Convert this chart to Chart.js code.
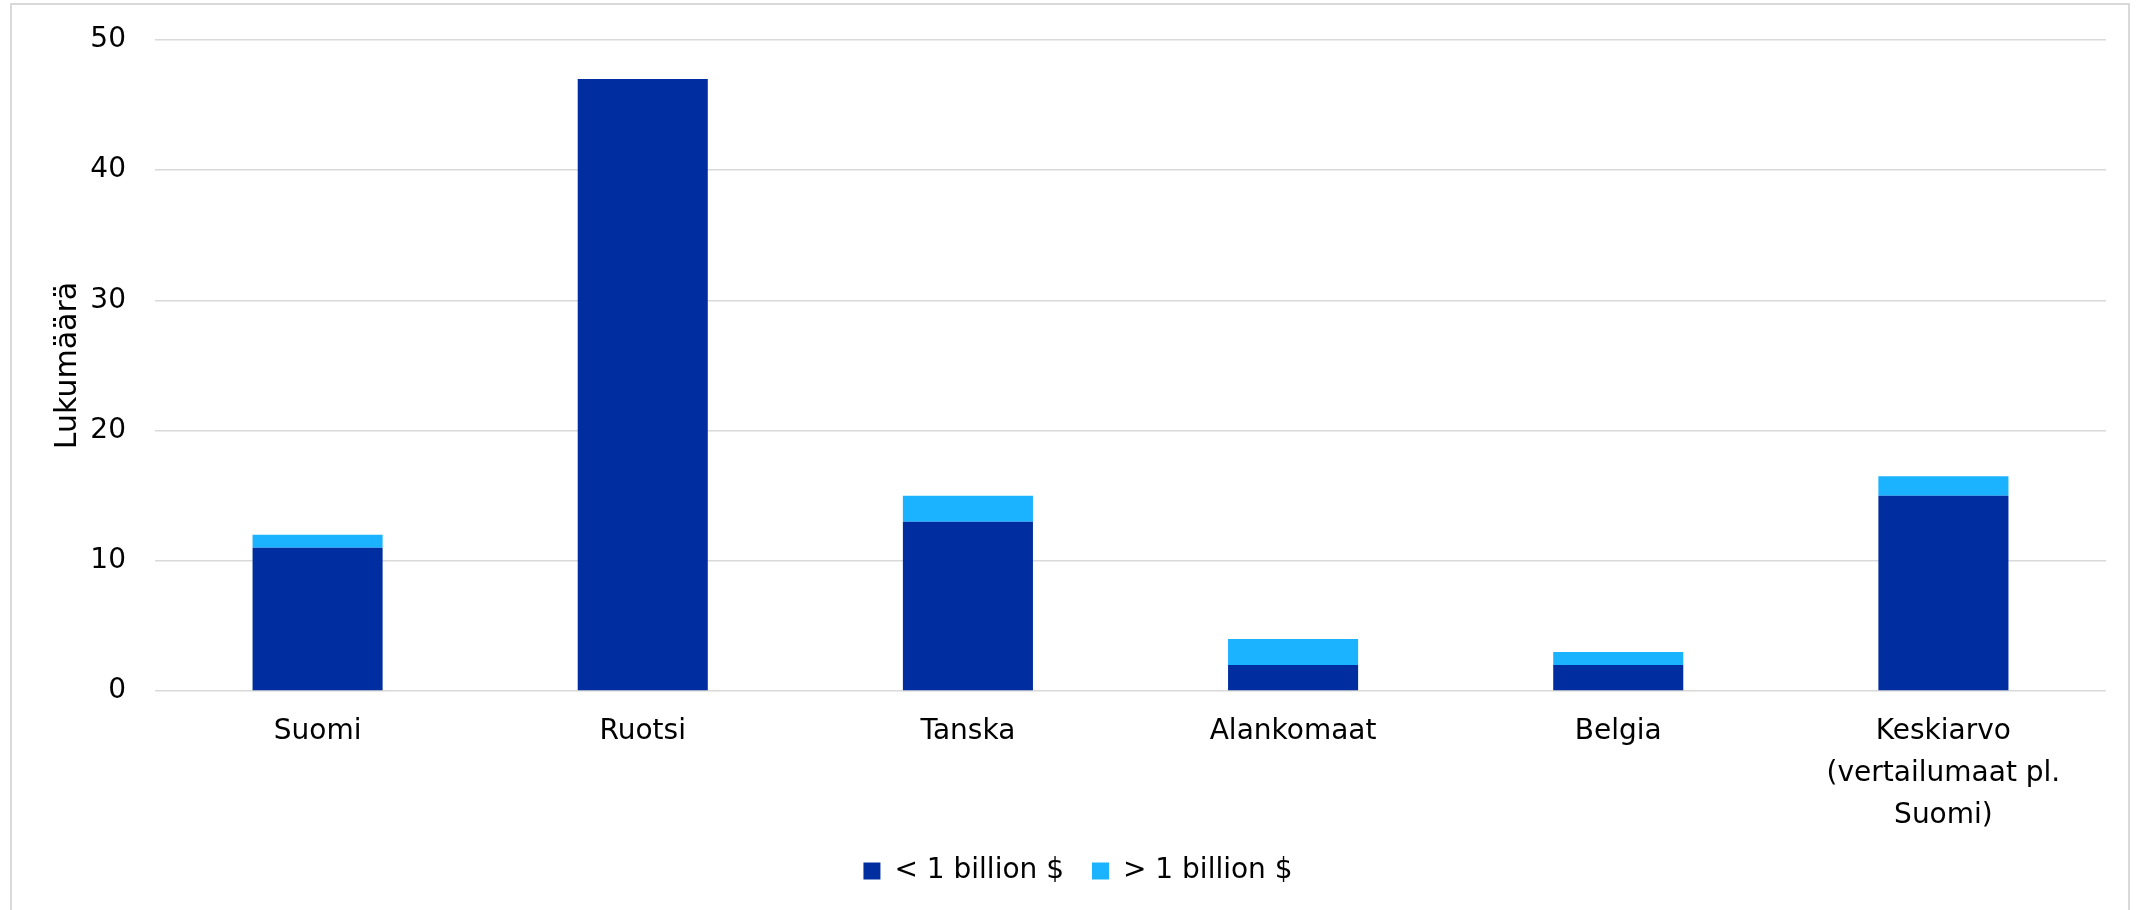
<!DOCTYPE html>
<html>
<head>
<meta charset="utf-8">
<script src="https://cdn.jsdelivr.net/npm/chart.js@4/dist/chart.umd.min.js"></script>
<style>
  html, body { margin: 0; padding: 0; background: #fff; overflow: hidden; }
  .frame {
    position: absolute; left: 10px; top: 3px; width: 2120px; height: 1000px;
    border: 2px solid #d9d9d9; box-sizing: border-box;
  }
  .wrap { position: absolute; left: 0; top: 0; width: 2149px; height: 910px; }
</style>
</head>
<body>
<div class="frame"></div>
<div class="wrap"><canvas id="chart"></canvas></div>
<script>
const categories = ['Suomi', 'Ruotsi', 'Tanska', 'Alankomaat', 'Belgia',
  ['Keskiarvo', '(vertailumaat pl.', 'Suomi)']];
const alle1mrd = [11, 47, 13, 2, 2, 15];
const yli1mrd = [1, 0, 2, 2, 1, 1.5];
const yTicks = [0, 10, 20, 30, 40, 50];

const font = 'DejaVu Sans';
const leftPad = 50;

new Chart(document.getElementById('chart'), {
    type: 'bar',
    data: {
        labels: categories,
        datasets: [{
            label: '< 1 billion $',
            data: alle1mrd,
            backgroundColor: '#002ea0'
        }, {
            label: '> 1 billion $',
            data: yli1mrd,
            backgroundColor: '#1bb2ff'
        }]
    },
    options: {
        responsive: true,
        maintainAspectRatio: false,
        animation: false,
        datasets: {
            bar: { categoryPercentage: 1, barPercentage: 0.4 }
        },
        layout: { padding: { left: leftPad, right: 43, top: 0, bottom: 15 } },
        plugins: {
            tooltip: { enabled: false },
            legend: {
                position: 'bottom',
                labels: {
                    color: '#000',
                    font: { family: font, size: 28 },
                    boxWidth: 17,
                    boxHeight: 17,
                    padding: 28
                }
            }
        },
        scales: {
            x: {
                stacked: true,
                grid: { display: false },
                border: { display: false },
                afterFit: function(scale) {
                    scale.height = scale.height - 20;
                },
                ticks: {
                    color: '#000',
                    font: { family: font, size: 28, lineHeight: 1.5 },
                    padding: 12,
                    maxRotation: 0,
                    autoSkip: false
                }
            },
            y: {
                stacked: true,
                min: yTicks[0],
                max: yTicks[yTicks.length - 1],
                afterBuildTicks: function(scale) {
                    scale.ticks = yTicks.map(v => ({ value: v }));
                },
                afterFit: function(scale) {
                    scale.width = 155 - leftPad;
                    scale.paddingTop = 40;
                },
                grid: { color: '#d9d9d9', lineWidth: 1.5, drawTicks: false },
                border: { display: false },
                ticks: {
                    color: '#000',
                    font: { family: font, size: 28 },
                    padding: 29
                },
                title: {
                    display: true,
                    text: 'Lukumäärä',
                    color: '#000',
                    font: { family: font, size: 30 },
                    padding: 0
                }
            }
        }
    }
});
</script>
</body>
</html>
